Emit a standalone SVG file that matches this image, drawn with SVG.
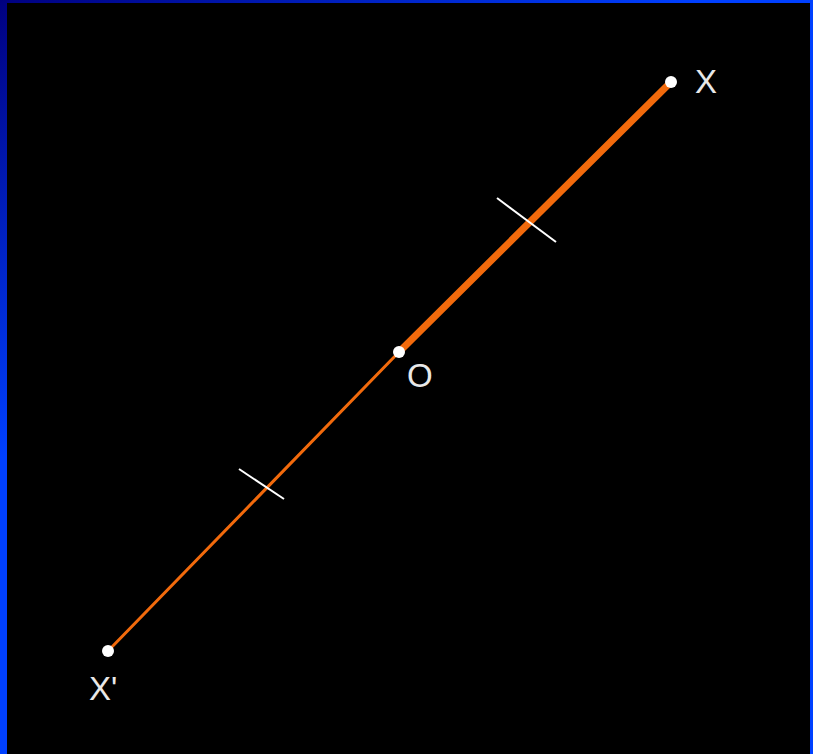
<svg xmlns="http://www.w3.org/2000/svg" width="813" height="754" viewBox="0 0 813 754">
<defs>
<linearGradient id="bg" x1="0" y1="0" x2="211" y2="321" gradientUnits="userSpaceOnUse">
<stop offset="0" stop-color="#000080"/>
<stop offset="1" stop-color="#0040ff"/>
</linearGradient>
<style>
.seg{stroke:#f26a0c;stroke-linecap:round;fill:none}
.tick{stroke:#ffffff;stroke-width:2;fill:none}
.pt{fill:#ffffff}
.lbl{font-family:"Liberation Sans",Arial,sans-serif;font-size:33px;fill:#e8e8e8}
</style>
</defs>
<rect x="0" y="0" width="813" height="754" fill="url(#bg)"/>
<rect x="7" y="3" width="803" height="751" fill="#000000"/>
<g id="connectors">
<line class="seg" x1="399" y1="352" x2="671" y2="82" stroke-width="7"/>
<line class="seg" x1="108" y1="651" x2="399" y2="352" stroke-width="3"/>
<line class="tick" x1="497" y1="198" x2="556" y2="242"/>
<line class="tick" x1="239" y1="469" x2="284" y2="499"/>
</g>
<g id="node-X">
<circle class="pt" cx="671" cy="82" r="6"/>
<text class="lbl" x="695" y="93">X</text>
</g>
<g id="node-O">
<circle class="pt" cx="399" cy="352" r="6"/>
<text class="lbl" x="407" y="387">O</text>
</g>
<g id="node-Xp">
<circle class="pt" cx="108" cy="651" r="6"/>
<text class="lbl" x="89" y="700">X'</text>
</g>
</svg>
